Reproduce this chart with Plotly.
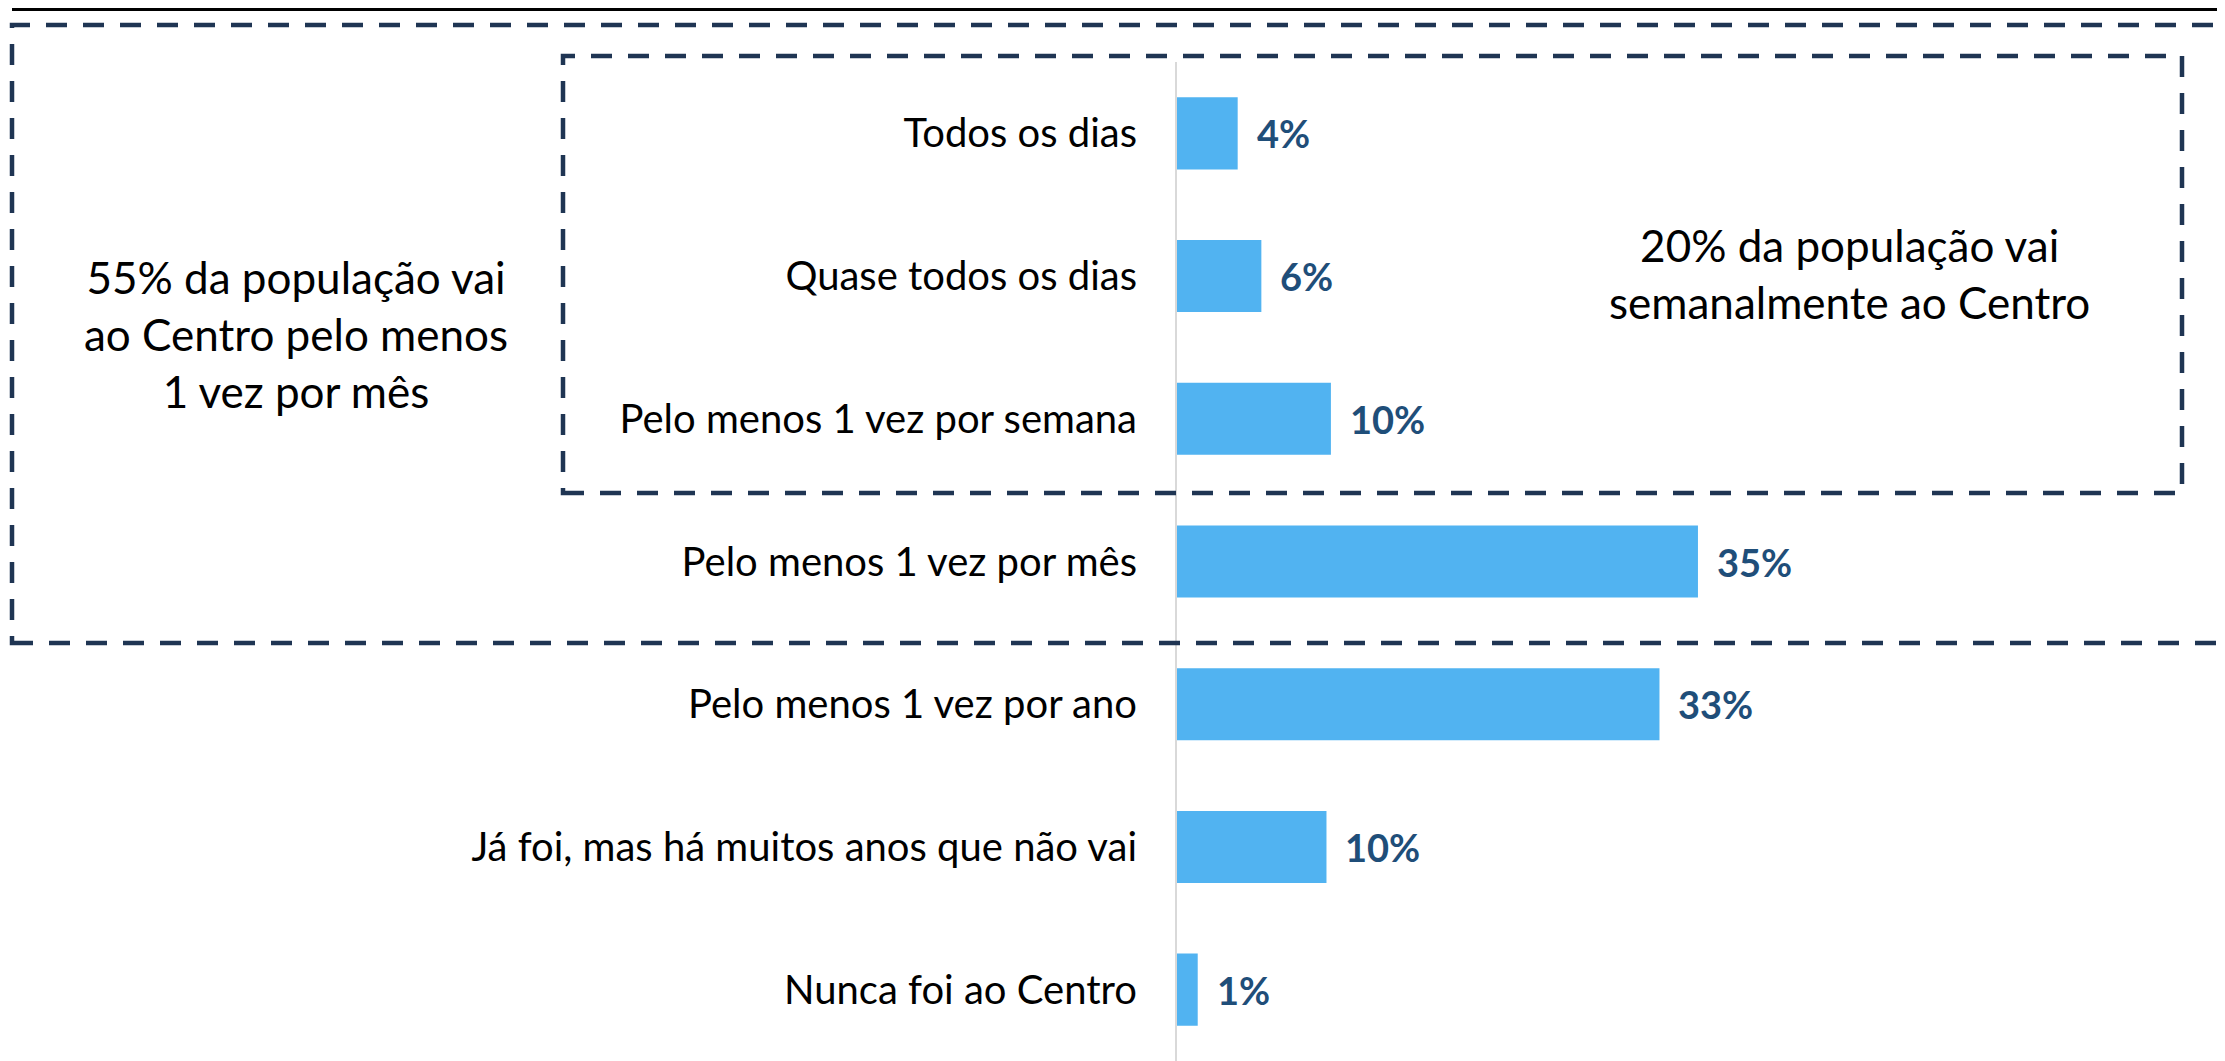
import plotly.graph_objects as go

# ---- data ----
categories = [
    "Todos os dias",
    "Quase todos os dias",
    "Pelo menos 1 vez por semana",
    "Pelo menos 1 vez por mês",
    "Pelo menos 1 vez por ano",
    "Já foi, mas há muitos anos que não vai",
    "Nunca foi ao Centro",
]
values = [4.1, 5.7, 10.4, 35.2, 32.6, 10.1, 1.4]
value_labels = ["4%", "6%", "10%", "35%", "33%", "10%", "1%"]

note_outer = "55% da população vai<br>ao Centro pelo menos<br>1 vez por mês"
note_inner = "20% da população vai<br>semanalmente ao Centro"

# ---- layout geometry ----
# The page body has an 8px default margin, so the figure is drawn 8px
# right/down of the window origin; margins compensate for that.
OFF = 8
W, H = 2225, 1061
# plot area in window (screen) pixels
PL, PT, PR, PB = 1177, 62, 2225, 1061
ML, MT = PL - OFF, PT - OFF
MR, MB = W - (PR - OFF), H - (PB - OFF)
PW, PH = PR - PL, PB - PT
PX_PER_PCT = 14.8


def px(x):
    """window x-pixel -> paper x"""
    return (x - PL) / PW


def py(y):
    """window y-pixel -> paper y"""
    return (PB - y) / PH


BAR_COLOR = "#51B3F1"
LABEL_COLOR = "#1F4E79"
BOX_COLOR = "#1F3553"

fig = go.Figure()
fig.add_trace(
    go.Bar(
        x=values,
        y=categories,
        orientation="h",
        marker=dict(color=BAR_COLOR, line=dict(width=0)),
        hoverinfo="skip",
    )
)

annotations = []
for c, v, t in zip(categories, values, value_labels):
    annotations.append(
        dict(
            x=v, y=c, xref="x", yref="y", text=t, showarrow=False,
            xanchor="left", yanchor="middle", xshift=17,
            font=dict(family="Lato", size=38, color=LABEL_COLOR, weight="bold"),
        )
    )

annotations.append(
    dict(
        x=px(296), y=py(334), xref="paper", yref="paper", text=note_outer,
        showarrow=False, xanchor="center", yanchor="middle", align="center",
        font=dict(family="Lato", size=44, color="#000000"),
    )
)
annotations.append(
    dict(
        x=px(1849), y=py(273), xref="paper", yref="paper", text=note_inner,
        showarrow=False, xanchor="center", yanchor="middle", align="center",
        font=dict(family="Lato", size=44, color="#000000"),
    )
)

shapes = [
    # top black rule
    dict(type="line", xref="paper", yref="paper",
         x0=px(12), x1=px(W + 20), y0=py(9.5), y1=py(9.5),
         line=dict(color="#000000", width=3)),
    # outer dashed box
    dict(type="rect", xref="paper", yref="paper",
         x0=px(12), x1=px(W + 40), y0=py(643), y1=py(25),
         line=dict(color=BOX_COLOR, width=4.5, dash="21px,16px")),
    # inner dashed box
    dict(type="rect", xref="paper", yref="paper",
         x0=px(563), x1=px(2182), y0=py(493), y1=py(56),
         line=dict(color=BOX_COLOR, width=4.5, dash="21px,16px")),
]

fig.update_layout(
    width=W, height=H,
    margin=dict(l=ML, r=MR, t=MT, b=MB, pad=0),
    paper_bgcolor="white", plot_bgcolor="white",
    showlegend=False,
    bargap=0.495,
    annotations=annotations,
    shapes=shapes,
    font=dict(family="Lato", color="#000000"),
)
fig.update_xaxes(
    range=[0, PW / PX_PER_PCT], visible=False, showgrid=False, zeroline=False,
)
fig.update_yaxes(
    autorange="reversed", showline=True, linecolor="#D9D9D9", linewidth=2,
    showgrid=False, zeroline=False, ticks="",
    tickfont=dict(family="Lato", size=40, color="#000000"),
    ticklabelstandoff=30,
)

fig.write_html("out.html")
